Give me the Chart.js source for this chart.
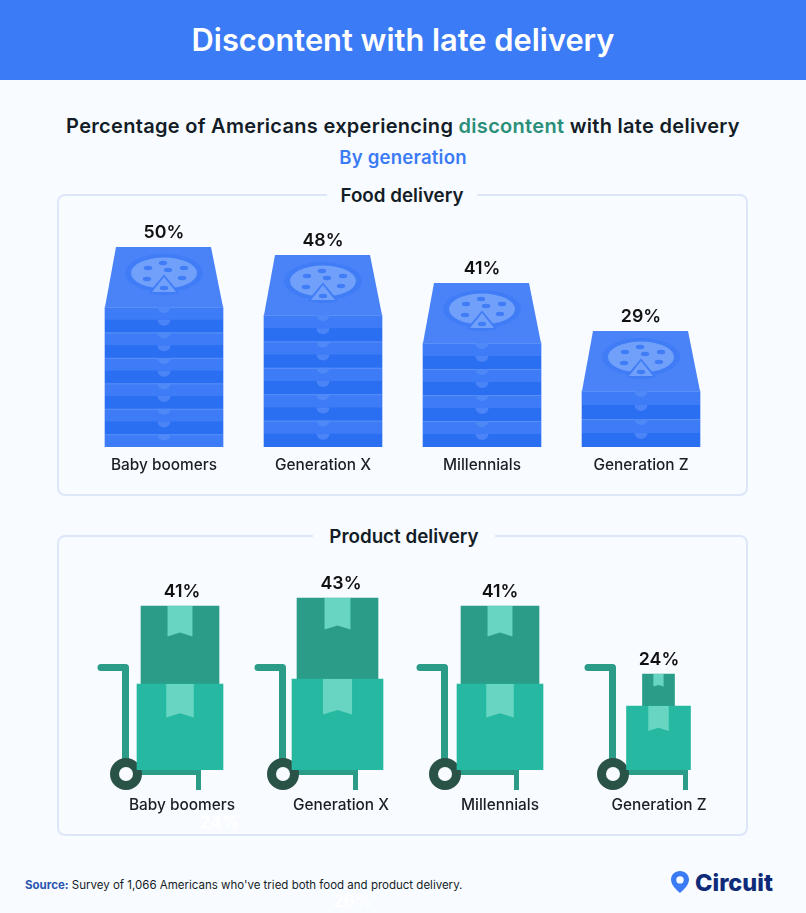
<!DOCTYPE html>
<html>
<head>
<meta charset="utf-8">
<title>Discontent with late delivery</title>
<script src="https://cdn.jsdelivr.net/npm/chart.js@4"></script>
<style>
  html, body { margin: 0; padding: 0; }
  body { width: 806px; height: 913px; position: relative; overflow: hidden; background: #f8fbff; font-family: Inter, sans-serif; color: #131d27; }
  .abs { position: absolute; white-space: nowrap; }
  .header { left: 0; top: 0; width: 806px; height: 80px; background: #3c7bf6; color: #fff; font-size: 30.8px; font-weight: 600; line-height: 79px; text-align: center; }
  .subtitle { left: 0; width: 806px; top: 113px; font-size: 20px; letter-spacing: 0.3px; line-height: 26px; font-weight: 600; text-align: center; }
  .subtitle em { font-style: normal; color: #2a8f78; }
  .byline { left: 0; width: 806px; top: 145px; font-size: 18.6px; letter-spacing: 0.2px; line-height: 24px; font-weight: 600; text-align: center; color: #3c7bf6; }
  .card { left: 57px; width: 687px; border: 2px solid #dde7f9; border-radius: 8px; box-sizing: content-box; }
  .card-label { font-size: 18.8px; font-weight: 600; line-height: 24px; background: #f8fbff; text-align: center; }
  canvas { position: absolute; left: 0; }
  .ghost { color: #fff; font-size: 17px; font-weight: 700; }
  .source { left: 25px; top: 877px; font-size: 11.5px; line-height: 16px; }
  .source b { color: #2a55b0; font-weight: 700; }
  .logo { left: 695px; top: 867px; font-size: 23.5px; line-height: 32px; font-weight: 800; color: #0e2a78; }
</style>
</head>
<body>
<div class="abs header">Discontent with late delivery</div>
<div class="abs subtitle">Percentage of Americans experiencing <em>discontent</em> with late delivery</div>
<div class="abs byline">By generation</div>

<div class="abs card" style="top:194px;height:298px"></div>
<div class="abs card-label" style="left:327px;width:150px;top:184px">Food delivery</div>
<div class="abs card" style="top:535px;height:297px"></div>
<div class="abs card-label" style="left:313px;width:182px;top:525px">Product delivery</div>

<canvas id="foodChart" style="top:210px"></canvas>
<canvas id="productChart" style="top:540px"></canvas>

<div class="abs ghost" style="left:200px;top:812px">24%</div>
<div class="abs ghost" style="left:333px;top:891px">26%</div>

<div class="abs source"><b>Source:</b> Survey of 1,066 Americans who've tried both food and product delivery.</div>
<svg class="abs" style="left:669px;top:870px" width="22" height="24" viewBox="0 0 22 24">
  <path fill-rule="evenodd" fill="#3c7bf6" d="M11 1C5.9 1 2 4.9 2 9.6c0 5.4 5.6 10.6 9 13.4 3.4-2.8 9-8 9-13.4C20 4.9 16.100 1 11 1zm0 5.200a3.700 3.700 0 1 1 0 7.400 3.700 3.700 0 0 1 0-7.400z"/>
</svg>
<div class="abs logo">Circuit</div>

<script>
// --- DATA ---
const foodLabels = ['Baby boomers', 'Generation X', 'Millennials', 'Generation Z'];
const foodPct = [50, 48, 41, 29];
const foodBoxBody = [35, 33, 26, 14];
const foodBoxLid = [15, 15, 15, 15];
const foodLayers = [11, 10, 8, 4];

const productLabels = ['Baby boomers', 'Generation X', 'Millennials', 'Generation Z'];
const productPct = [41, 43, 41, 24];
const productLowerBox = [21.5, 22.75, 21.5, 16];
const productUpperBox = [19.5, 20.25, 19.5, 8];

// cart drawing offsets from each category centre, in px
const boxShift = [-2, -3.5, 0, -0.5];
const wheelShift = [-56, -58, -55, -46];
const legShift = [19, 17, 19, 29];

const FONT = 'Inter, sans-serif';

// --- FOOD: pizza box drawing on top of the bars ---
const pepperoni = [[-16, -5], [-1, -10], [4, -3], [20, -5], [-17, 6], [18, 5], [0, 15]];

const pizzaBoxes = {
    id: 'pizzaBoxes',
    afterDatasetsDraw(chart) {
        const ctx = chart.ctx;
        const bodies = chart.getDatasetMeta(0).data;
        const lids = chart.getDatasetMeta(1).data;

        bodies.forEach((bar, i) => {
            const left = bar.x - bar.width / 2;
            const right = bar.x + bar.width / 2;
            const stripH = (bar.base - bar.y) / foodLayers[i];

            ctx.save();
            for (let s = 0; s < foodLayers[i]; s++) {
                const top = bar.y + s * stripH;
                if (s % 2 === 1) {
                    ctx.fillStyle = '#2a6ff2';
                    ctx.fillRect(left, top, bar.width, stripH);
                } else {
                    ctx.fillStyle = '#5a90f8';
                    ctx.fillRect(left, top, bar.width, 1);
                }
                // little thumb cut-out at the front of each layer
                ctx.fillStyle = s % 2 === 1 ? '#4a84f7' : '#4f89f8';
                ctx.beginPath();
                ctx.ellipse(bar.x, top, 6.5, 6, 0, 0, Math.PI);
                ctx.fill();
            }

            // lid
            const lid = lids[i];
            ctx.fillStyle = '#4a83f8';
            ctx.beginPath();
            ctx.moveTo(left + 11, lid.y);
            ctx.lineTo(right - 12, lid.y);
            ctx.lineTo(right, lid.base);
            ctx.lineTo(left, lid.base);
            ctx.closePath();
            ctx.fill();

            // pizza
            const cx = bar.x;
            const cy = lid.y + 26;
            ctx.fillStyle = '#3f7cf6';
            ctx.beginPath();
            ctx.ellipse(cx, cy, 39, 19, 0, 0, Math.PI * 2);
            ctx.fill();
            ctx.fillStyle = '#70a0fa';
            ctx.beginPath();
            ctx.ellipse(cx, cy, 33, 15.5, 0, 0, Math.PI * 2);
            ctx.fill();
            // cut slice
            ctx.fillStyle = '#3f7cf6';
            ctx.beginPath();
            ctx.moveTo(cx, cy + 1.5);
            ctx.lineTo(cx - 15.5, cy + 20);
            ctx.quadraticCurveTo(cx, cy + 24, cx + 15.5, cy + 20);
            ctx.closePath();
            ctx.fill();
            ctx.fillStyle = '#70a0fa';
            ctx.beginPath();
            ctx.moveTo(cx, cy + 4);
            ctx.lineTo(cx - 12, cy + 19);
            ctx.lineTo(cx + 12, cy + 19);
            ctx.closePath();
            ctx.fill();
            ctx.fillStyle = '#3f7cf6';
            pepperoni.forEach(p => {
                ctx.beginPath();
                ctx.ellipse(cx + p[0], cy + p[1], 4.2, 2.2, 0, 0, Math.PI * 2);
                ctx.fill();
            });
            ctx.restore();
        });
    }
};

// --- PRODUCT: square boxes and the hand cart ---
const squareBoxes = {
    id: 'squareBoxes',
    afterDatasetsUpdate(chart) {
        chart.data.datasets.forEach((ds, d) => {
            chart.getDatasetMeta(d).data.forEach((bar, i) => {
                bar.width = bar.base - bar.y;
                bar.x += boxShift[i];
            });
        });
    },
    beforeDatasetsDraw(chart) {
        const ctx = chart.ctx;
        const baseY = chart.scales.y.getPixelForValue(0);
        ctx.save();
        chart.scales.x.ticks.forEach((t, i) => {
            const c = chart.scales.x.getPixelForTick(i);
            const wheelX = c + wheelShift[i];
            const legX = c + legShift[i];
            ctx.strokeStyle = '#2a9c87';
            ctx.lineWidth = 7;
            ctx.lineCap = 'round';
            ctx.lineJoin = 'round';
            ctx.beginPath();
            ctx.moveTo(wheelX - 25, baseY - 102.5);
            ctx.lineTo(wheelX - 0.5, baseY - 102.5);
            ctx.lineTo(wheelX - 0.5, baseY);
            ctx.stroke();
            ctx.fillStyle = '#2a9c87';
            ctx.fillRect(wheelX, baseY, legX - wheelX, 5);
            ctx.fillRect(legX - 5, baseY, 5, 20);
            ctx.strokeStyle = '#2a5347';
            ctx.lineWidth = 9;
            ctx.fillStyle = '#f8fbff';
            ctx.beginPath();
            ctx.arc(wheelX, baseY + 4, 11.5, 0, Math.PI * 2);
            ctx.fill();
            ctx.stroke();
        });
        ctx.restore();
    },
    afterDatasetsDraw(chart) {
        const ctx = chart.ctx;
        ctx.save();
        ctx.fillStyle = '#67d5c2';
        chart.data.datasets.forEach((ds, d) => {
            chart.getDatasetMeta(d).data.forEach(bar => {
                const side = bar.width;
                const half = side * 0.16;
                const top = bar.y;
                const bottom = bar.y + side * 0.39;
                ctx.beginPath();
                ctx.moveTo(bar.x - half, top);
                ctx.lineTo(bar.x + half, top);
                ctx.lineTo(bar.x + half, bottom);
                ctx.lineTo(bar.x, bottom - side * 0.05);
                ctx.lineTo(bar.x - half, bottom);
                ctx.closePath();
                ctx.fill();
            });
        });
        ctx.restore();
    }
};

// --- PERCENT LABELS ---
const pctLabels = {
    id: 'pctLabels',
    afterDraw(chart, args, opts) {
        const ctx = chart.ctx;
        ctx.save();
        ctx.font = '600 17.8px ' + FONT;
        ctx.fillStyle = '#111';
        ctx.textAlign = 'center';
        ctx.textBaseline = 'middle';
        opts.values.forEach((v, i) => {
            ctx.fillText(v + '%', chart.scales.x.getPixelForTick(i), chart.scales.y.getPixelForValue(v) - 14.5);
        });
        ctx.restore();
    }
};

function baseOptions(layout, axisHeight, tickPad, yMax, values) {
    return {
        responsive: false,
        animation: false,
        layout: { padding: layout },
        plugins: { legend: { display: false }, tooltip: { enabled: false }, pctLabels: { values: values } },
        scales: {
            x: {
                stacked: true,
                grid: { display: false },
                border: { display: false },
                afterFit: scale => { scale.height = axisHeight; },
                ticks: {
                    color: '#1a1f24',
                    padding: tickPad,
                    maxRotation: 0,
                    font: { family: FONT, size: 15.4, weight: '500' }
                }
            },
            y: { display: false, stacked: true, min: 0, max: yMax }
        }
    };
}

function setSize(id, w, h) {
    const el = document.getElementById(id);
    el.width = w;
    el.height = h;
    el.style.width = w + 'px';
    el.style.height = h + 'px';
    return el;
}

// --- CHARTS ---
new Chart(setSize('foodChart', 806, 270), {
    type: 'bar',
    data: {
        labels: foodLabels,
        datasets: [
            { data: foodBoxBody, backgroundColor: '#3e7bf6', barThickness: 118 },
            { data: foodBoxLid, backgroundColor: 'transparent', barThickness: 118 }
        ]
    },
    options: baseOptions({ left: 84.5, right: 85.5, top: 17, bottom: 0 }, 33, 1, 55, foodPct),
    plugins: [pizzaBoxes, pctLabels]
});

new Chart(setSize('productChart', 806, 290), {
    type: 'bar',
    data: {
        labels: productLabels,
        datasets: [
            { data: productLowerBox, backgroundColor: '#27b8a1', barThickness: 60 },
            { data: productUpperBox, backgroundColor: '#2a9c87', barThickness: 60 }
        ]
    },
    options: baseOptions({ left: 102.5, right: 67.5, top: 30, bottom: 0 }, 60, 18, 50, productPct),
    plugins: [squareBoxes, pctLabels]
});
</script>
</body>
</html>
